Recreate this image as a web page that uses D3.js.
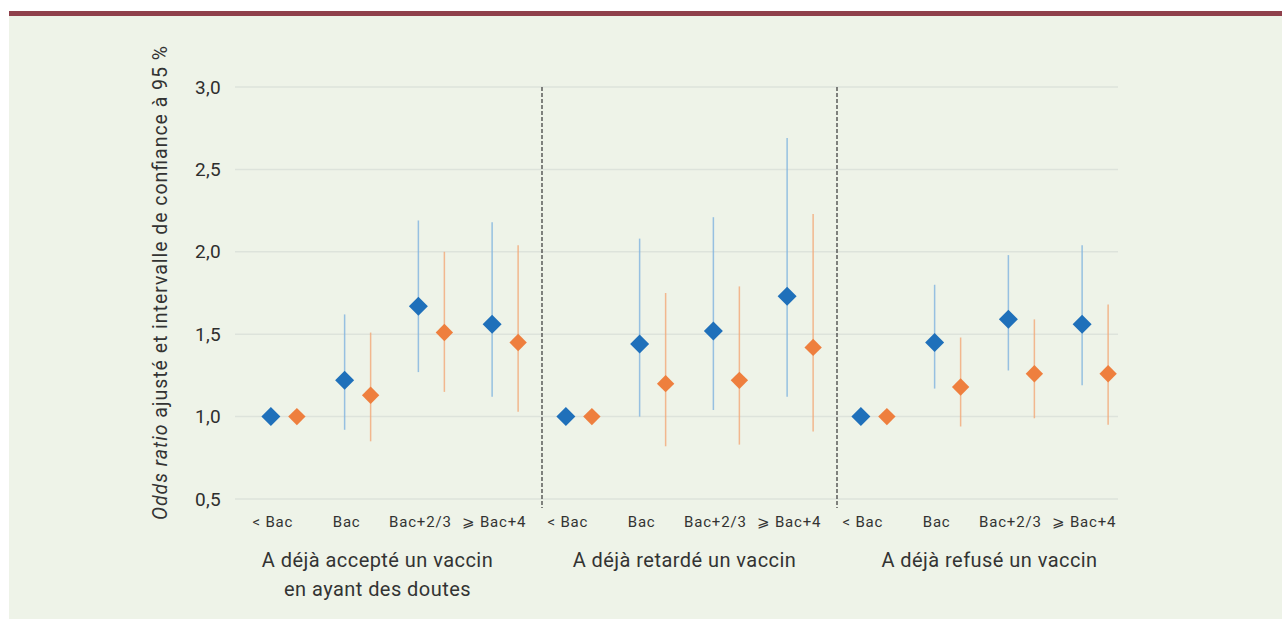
<!DOCTYPE html>
<html><head><meta charset="utf-8">
<script src="https://cdn.jsdelivr.net/npm/d3@7"></script>
<style>html,body{margin:0;padding:0;background:#fff;}svg{display:block;}</style>
</head><body>
<svg id="chart" width="1282" height="619"></svg>
<script>
// ---- data ----
const groups = ["A déjà accepté un vaccin|en ayant des doutes", "A déjà retardé un vaccin", "A déjà refusé un vaccin"];
const levels = ["< Bac", "Bac", "Bac+2/3", "⩾ Bac+4"];
const yTicks = [0.5, 1.0, 1.5, 2.0, 2.5, 3.0];
const blueOR   = [1.00, 1.22, 1.67, 1.56,  1.00, 1.44, 1.52, 1.73,  1.00, 1.45, 1.59, 1.56];
const blueLow  = [null, 0.92, 1.27, 1.12,  null, 1.00, 1.04, 1.12,  null, 1.17, 1.28, 1.19];
const blueHigh = [null, 1.62, 2.19, 2.18,  null, 2.08, 2.21, 2.69,  null, 1.80, 1.98, 2.04];
const orangeOR   = [1.00, 1.13, 1.51, 1.45,  1.00, 1.20, 1.22, 1.42,  1.00, 1.18, 1.26, 1.26];
const orangeLow  = [null, 0.85, 1.15, 1.03,  null, 0.82, 0.83, 0.91,  null, 0.94, 0.99, 0.95];
const orangeHigh = [null, 1.51, 2.00, 2.04,  null, 1.75, 1.79, 2.23,  null, 1.48, 1.59, 1.68];

// ---- layout ----
const svg = d3.select("#chart");
const W = 1282, H = 619;
svg.append("rect").attr("x", 0).attr("y", 0).attr("width", W).attr("height", H).attr("fill", "#ffffff");
svg.append("rect").attr("x", 9).attr("y", 16).attr("width", W - 9).attr("height", H - 16).attr("fill", "#eef3e8");
svg.append("rect").attr("x", 9).attr("y", 11).attr("width", W - 9).attr("height", 5).attr("fill", "#8f404b");

const keys = [];
groups.forEach((g, gi) => levels.forEach((l, li) => keys.push(gi + "_" + li)));
const x = d3.scaleBand().domain(keys).range([247, 1132]).padding(0);
const y = d3.scaleLinear().domain([0.5, 3.0]).range([499, 87]);
const off = 13;
const font = "Roboto, 'DejaVu Sans', sans-serif";

// gridlines
svg.append("g").selectAll("line").data(yTicks).join("line")
  .attr("x1", 235).attr("x2", 1118)
  .attr("y1", d => y(d)).attr("y2", d => y(d))
  .attr("stroke", "#dde3db").attr("stroke-width", 1.5);

// y tick labels via axis
const yAxis = svg.append("g").attr("transform", "translate(235,0)")
  .call(d3.axisLeft(y).tickValues(yTicks).tickSize(0).tickPadding(14)
    .tickFormat(d => d3.format(".1f")(d).replace(".", ",")));
yAxis.select(".domain").remove();
yAxis.selectAll("text").attr("font-family", font).attr("font-size", 19).attr("fill", "#2e2e2e")
  .attr("letter-spacing", 0.3);

// y title
const yt = svg.append("text")
  .attr("transform", "translate(167," + ((45 + 521) / 2) + ") rotate(-90)")
  .attr("text-anchor", "middle").attr("font-family", font).attr("font-size", 19.5).attr("fill", "#333")
  .attr("textLength", 474).attr("lengthAdjust", "spacing");
yt.append("tspan").attr("font-style", "italic").text("Odds ratio");
yt.append("tspan").text(" ajusté et intervalle de confiance à 95 %");

// separators
[1, 2].forEach(gi => {
  const sx = x(gi + "_0");
  svg.append("line").attr("x1", sx).attr("x2", sx).attr("y1", y(3.0)).attr("y2", 508)
    .attr("stroke", "#444").attr("stroke-width", 1.3).attr("stroke-dasharray", "4,2");
});

// category labels
svg.append("g").selectAll("text").data(keys).join("text")
  .attr("x", d => x(d) + x.bandwidth() / 2 - 11)
  .attr("y", 527)
  .attr("text-anchor", "middle").attr("font-family", font).attr("font-size", 15).attr("fill", "#333")
  .attr("letter-spacing", 0.8)
  .text(d => levels[+d.split("_")[1]]);

// group labels
const gNudge = [-17, -5, 5];
groups.forEach((g, gi) => {
  const cx = (x(gi + "_0") + x(gi + "_3") + x.bandwidth()) / 2 + gNudge[gi];
  const t = svg.append("text").attr("text-anchor", "middle").attr("font-family", font)
    .attr("font-size", 20).attr("fill", "#333").attr("letter-spacing", 0.45);
  g.split("|").forEach((line, li) => {
    t.append("tspan").attr("x", cx).attr("y", 567 + li * 29).text(line);
  });
});

// series
const series = [
  {or: blueOR, lo: blueLow, hi: blueHigh, dx: -off, fill: "#1f70ba", bar: "#7fb3df", h: 9.5},
  {or: orangeOR, lo: orangeLow, hi: orangeHigh, dx: off, fill: "#ee7f3e", bar: "#f2a877", h: 8.7}
];
series.forEach(s => {
  const g = svg.append("g");
  const data = keys.map((k, i) => ({k, or: s.or[i], lo: s.lo[i], hi: s.hi[i]}));
  g.selectAll("line").data(data.filter(d => d.lo != null)).join("line")
    .attr("x1", d => x(d.k) + x.bandwidth() / 2 + s.dx)
    .attr("x2", d => x(d.k) + x.bandwidth() / 2 + s.dx)
    .attr("y1", d => y(d.lo)).attr("y2", d => y(d.hi))
    .attr("stroke", s.bar).attr("stroke-width", 1.5).attr("stroke-opacity", 0.8);
  g.selectAll("path").data(data).join("path")
    .attr("d", d => {
      const cx = x(d.k) + x.bandwidth() / 2 + s.dx, cy = y(d.or), h = s.h;
      return `M${cx},${cy - h}L${cx + h},${cy}L${cx},${cy + h}L${cx - h},${cy}Z`;
    })
    .attr("fill", s.fill);
});
</script>
</body></html>
